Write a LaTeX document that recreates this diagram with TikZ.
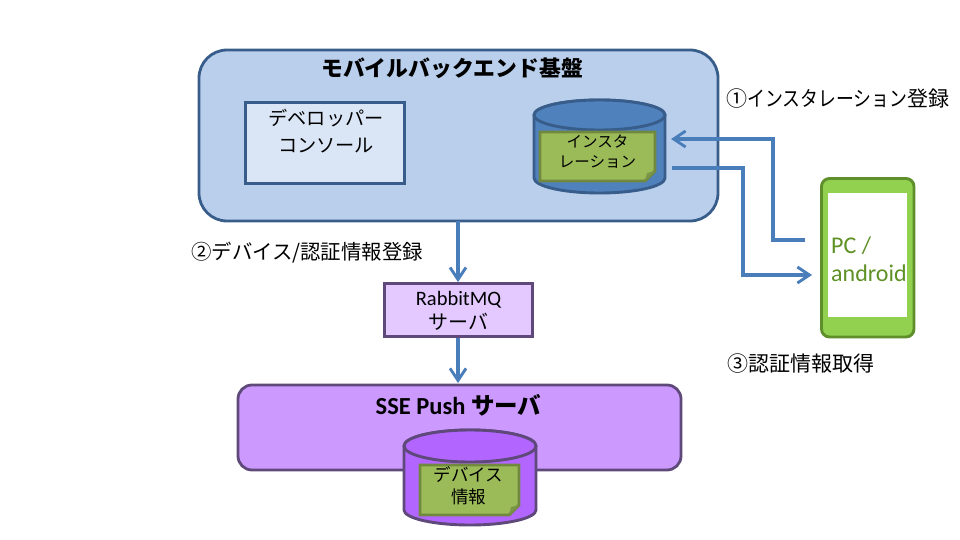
\documentclass[tikz,border=0pt]{standalone}
\usepackage{fontspec}
\setmainfont{Carlito}
\newfontfamily\cjk{Noto Sans CJK JP}
\newfontfamily\kana{Noto Sans CJK JP}[FakeStretch=0.85]
\definecolor{arrowblue}{HTML}{4A7EBB}
\definecolor{boxline}{HTML}{385D8A}
\definecolor{mainfill}{HTML}{B9CFEC}
\definecolor{devfill}{HTML}{DAE6F5}
\definecolor{cylblue}{HTML}{4F81BD}
\definecolor{notefill}{HTML}{9BBB59}
\definecolor{noteline}{HTML}{71893F}
\definecolor{notefold}{HTML}{7C9647}
\definecolor{purpline}{HTML}{5F497A}
\definecolor{rabbitfill}{HTML}{E3C9FF}
\definecolor{ssefill}{HTML}{CC99FF}
\definecolor{cylpurple}{HTML}{B266FF}
\definecolor{phonefill}{HTML}{92D050}
\definecolor{phoneline}{HTML}{5F8F2B}
\definecolor{phonetext}{HTML}{5F9127}
\usetikzlibrary{arrows.meta}
\tikzset{
  linkarrow/.style={arrowblue,line width=3.2pt,-{Straight Barb[length=12pt,width=16pt,line width=2.9pt]}},
  boxed/.style={rectangle,line width=2.9pt,inner sep=0pt,align=center},
  lbl/.style={inner sep=0pt,anchor=west,font=\cjk\fontsize{21}{25}\selectfont},
  boxlbl/.style={inner sep=0pt,align=center,font=\cjk\fontsize{19.2}{27}\selectfont},
  title/.style={inner sep=0pt,font=\cjk\bfseries\fontsize{21.8}{26}\selectfont},
  notelbl/.style={inner sep=0pt,align=center,font=\cjk\fontsize{15.5}{20}\selectfont},
  cyl/.style={line width=2.9pt,line join=round},
}
\begin{document}
\begin{tikzpicture}[x=1pt,y=-1pt]
\useasboundingbox (0,0) rectangle (960,540);
% main platform
\draw[boxline,fill=mainfill,line width=2.8pt,rounded corners=28pt] (199,50) rectangle (718,221);
\node[title] (maintitle) at (452,68) {モバイルバックエンド基盤};
\node[boxed,draw=boxline,fill=devfill,minimum width=159pt,minimum height=81pt] (dev) at (325,143) {};
\node[boxlbl] (devlbl) at (326,131.5) {デベロッパー\\コンソール};
% installation cylinder
\draw[cyl,draw=boxline,fill=cylblue] (534,115) -- (534,178) arc[start angle=180,end angle=360,x radius=65.5pt,y radius=15pt] -- (665,115) arc[start angle=0,end angle=180,x radius=65.5pt,y radius=15pt] -- cycle;
\draw[cyl,draw=boxline,fill=cylblue] (599.5,115) ellipse[x radius=65.5pt,y radius=15pt];
\draw[line width=2.9pt,draw=noteline,fill=notefill] (540,132) -- (655,132) -- (655,171) -- (645,181) -- (540,181) -- cycle;
\fill[notefold] (655,171) -- (645,181) -- (647,173) -- cycle;
\node[notelbl] (instlbl) at (597.5,152) {インスタ\\レーション};
% SSE server
\draw[purpline,fill=ssefill,line width=2.8pt,rounded corners=14pt] (238,385) rectangle (681,470);
\node[inner sep=0pt,font=\bfseries\fontsize{24.5}{28}\selectfont] (ssetitle) at (458.5,405) {SSE Push {\cjk\fontsize{23.5}{28}\selectfont サーバ}};
% device cylinder
\draw[cyl,draw=purpline,fill=cylpurple] (404,446) -- (404,510) arc[start angle=180,end angle=360,x radius=66pt,y radius=15pt] -- (536,446) arc[start angle=0,end angle=180,x radius=66pt,y radius=16pt] -- cycle;
\draw[cyl,draw=purpline,fill=cylpurple] (470,446) ellipse[x radius=66pt,y radius=16pt];
\draw[line width=2.9pt,draw=noteline,fill=notefill] (420,465) -- (519,465) -- (519,505) -- (509,515) -- (420,515) -- cycle;
\fill[notefold] (519,505) -- (509,515) -- (511,507) -- cycle;
\node[notelbl,font=\cjk\fontsize{17.5}{22}\selectfont] (devicelbl) at (468.5,486) {デバイス\\情報};
% RabbitMQ
\node[boxed,draw=purpline,fill=rabbitfill,minimum width=148pt,minimum height=53pt] (rabbit) at (458.5,310) {};
\node[inner sep=0pt,align=center,font=\fontsize{20.5}{24}\selectfont] (rabbitlbl) at (458.5,310.5) {RabbitMQ\\{\cjk\fontsize{20}{24}\selectfont サーバ}};
% phone
\draw[phoneline,fill=phonefill,line width=2.9pt,rounded corners=8pt] (821.5,178.5) rectangle (914,337);
\node[rectangle,fill=white,minimum width=79pt,minimum height=124pt,inner sep=0pt] (screen) at (867.5,255) {};
\node[inner sep=0pt,align=left,anchor=west,text=phonetext,font=\fontsize{24}{28}\selectfont] (phonelbl) at (831,259) {PC /\\android};
% labels
\node[lbl] (l1) at (726,99) {①{\kana インスタレーション}登録};
\node[lbl,font=\cjk\fontsize{20.4}{25}\selectfont] (l2) at (191,253) {②デバイス/認証情報登録};
\node[lbl] (l3) at (727,364) {③認証情報取得};
% connectors
\coordinate (c1s) at (805,240);
\coordinate (c1e) at (671,139);
\coordinate (c3s) at (672,168);
\coordinate (c3e) at (812,275);
\coordinate (main) at (458,221);
\coordinate (sse) at (458,383);
\draw[linkarrow] (c1s) -- (773,240) -- (773,139) -- (c1e);
\draw[linkarrow] (c3s) -- (743,168) -- (743,275) -- (c3e);
\draw[linkarrow] (main) -- (rabbit.north -| main);
\draw[linkarrow] (rabbit.south -| main) -- (sse);
\end{tikzpicture}
\end{document}
